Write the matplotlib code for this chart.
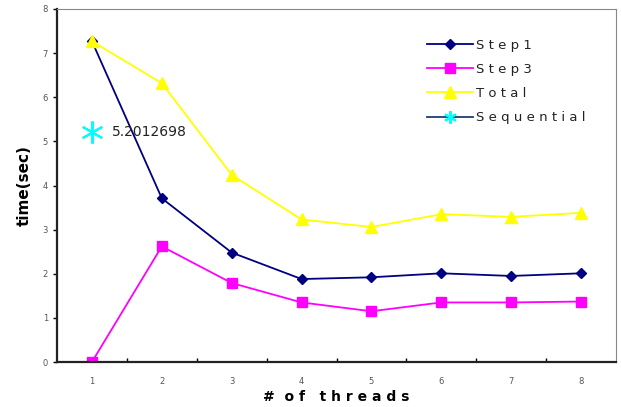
import numpy as np
import matplotlib.pyplot as plt
from matplotlib.lines import Line2D

threads = [1, 2, 3, 4, 5, 6, 7, 8]
step1 = [7.27, 3.71, 2.48, 1.88, 1.92, 2.01, 1.95, 2.01]
step3 = [0.0, 2.62, 1.79, 1.35, 1.15, 1.35, 1.35, 1.37]
total = [7.27, 6.32, 4.24, 3.23, 3.06, 3.35, 3.29, 3.38]
seq_x = [1]
seq_y = [5.2012698]

fig = plt.figure(figsize=(6.21, 4.07), dpi=100)
ax = fig.add_axes([57/621, 1 - 362/407, (616-57)/621, (362-9)/407])

ax.plot(threads, step1, color='#000080', marker='D', markersize=5, lw=1.3)
ax.plot(threads, step3, color='#ff00ff', marker='s', markersize=7, lw=1.3)
ax.plot(threads, total, color='#ffff00', marker='^', markersize=8, lw=1.3)
ax.plot(seq_x, seq_y, marker=(6, 2, 0), markersize=16, mew=1.5, color='#00ffff', linestyle='none')
ax.text(1.28, seq_y[0], '5.2012698', fontsize=10, va='center', color='#222222')

ax.set_xlim(0.5, 8.5)
ax.set_ylim(0, 8)
ax.set_xticks(threads)
ax.set_xticks(np.arange(1.5, 8.5, 1), minor=True)
ax.tick_params(axis='x', which='major', length=0, labelsize=6, labelcolor='#555555', pad=11)
ax.tick_params(axis='x', which='minor', length=3, direction='in', width=1)
ax.tick_params(axis='y', labelsize=6, labelcolor='#555555', length=3, width=1, direction='out')
ax.set_yticks(range(9))

for s in ['left', 'bottom']:
    ax.spines[s].set_linewidth(1.6)
    ax.spines[s].set_color('#222222')
for s in ['top', 'right']:
    ax.spines[s].set_linewidth(0.8)
    ax.spines[s].set_color('#888888')

ax.set_xlabel('#  o f   t h r e a d s', fontsize=10, fontweight='bold', labelpad=3)
ax.set_ylabel('time(sec)', fontsize=11, fontweight='bold', labelpad=8)

handles = [
    Line2D([], [], color='#000080', marker='D', markersize=5, lw=1.3),
    Line2D([], [], color='#ff00ff', marker='s', markersize=7, lw=1.3),
    Line2D([], [], color='#ffff00', marker='^', markersize=8, lw=1.3),
    Line2D([], [], color='#1f3f6f', marker=(6, 2, 0), markersize=9, mew=1.5,
           mec='#00ffff', lw=1.3),
]
labels = ['Step1', 'Step3', 'Total', 'Sequential']
leg = ax.legend(handles, [' '.join(l) for l in labels], loc='upper left',
                bbox_to_anchor=(358/559, 0.95), frameon=False, fontsize=9.5,
                handlelength=3.5, labelspacing=0.85, handletextpad=0.2)
for t in leg.get_texts():
    t.set_color('#222222')

fig.savefig('out.png', dpi=100)
